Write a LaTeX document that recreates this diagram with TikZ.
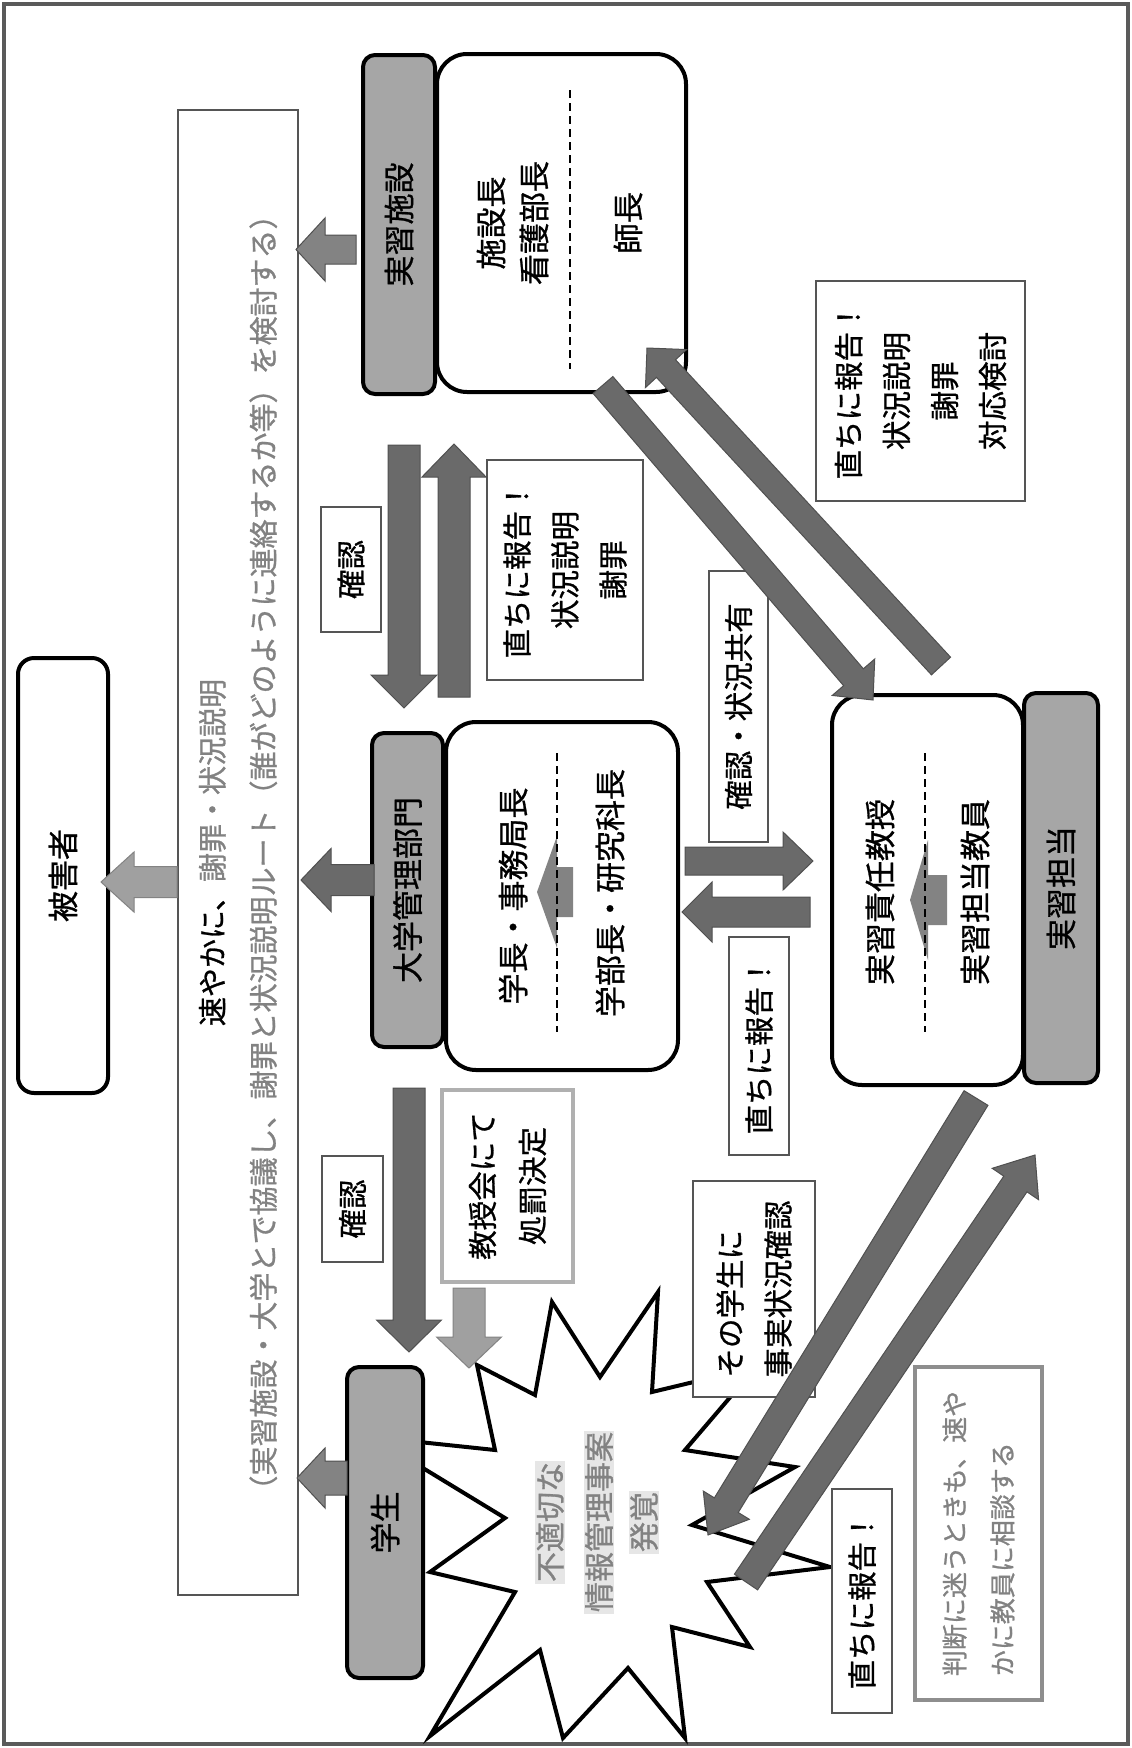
\documentclass[tikz,border=0pt]{standalone}
\usepackage{fontspec}
\setmainfont{Noto Sans CJK JP}[FakeBold=0.9]
\usetikzlibrary{calc}
\definecolor{arrdark}{HTML}{6A6A6A}
\definecolor{arrmid}{HTML}{838383}
\definecolor{arrlight}{HTML}{A0A0A0}
\definecolor{arredge}{HTML}{505050}
\definecolor{hdrfill}{HTML}{A6A6A6}
\definecolor{lblline}{HTML}{555555}
\definecolor{kyoline}{HTML}{B0B0B0}
\definecolor{handanline}{HTML}{8E8E8E}
\definecolor{txtgray}{HTML}{828282}
\definecolor{hlgray}{HTML}{E6E6E6}
\definecolor{framegray}{HTML}{5A5A5A}
\newcommand\fontHdr{\fontsize{31pt}{43pt}\selectfont}
\newcommand\fontLbl{\fontsize{29.5pt}{48pt}\selectfont}
\newcommand\fontBig{\fontsize{29pt}{51pt}\selectfont}
\newcommand\fontSml{\fontsize{26pt}{48pt}\selectfont}
\newcommand\fontStar{\fontsize{30pt}{47pt}\selectfont}
% #1 tail, #2 tip, #3 half shaft, #4 half head, #5 head length, #6 style
\newcommand\myblockarrow[6]{%
  \coordinate (tmpH) at ($(#2)!#5pt!(#1)$);
  \filldraw[#6] ($(#1)!#3pt!90:(#2)$) -- ($(tmpH)!#3pt!90:(#2)$) -- ($(tmpH)!#4pt!90:(#2)$) -- (#2)
    -- ($(tmpH)!#4pt!-90:(#2)$) -- ($(tmpH)!#3pt!-90:(#2)$) -- ($(#1)!#3pt!-90:(#2)$) -- cycle;}
\begin{document}
\begin{tikzpicture}[x=1pt,y=-1pt,
  hdr/.style={draw=black,line width=4pt,fill=hdrfill,rounded corners=12pt,rotate=90,inner sep=0pt,font=\fontHdr},
  bodybox/.style={draw=black,line width=4pt,fill=white,rounded corners=30pt,rotate=90,inner sep=0pt},
  lbl/.style={draw=lblline,line width=1.2pt,fill=white,rotate=90,inner sep=0pt,align=center,font=\fontLbl},
  txt/.style={rotate=90,inner sep=0pt,align=center,font=\fontHdr},
  sepline/.style={line width=2.6pt,dash pattern=on 8pt off 5pt},
  darr/.style={fill=arrdark,draw=arredge,line width=1pt},
  marr/.style={fill=arrmid,draw=arredge,line width=1pt},
  larr/.style={fill=arrlight,draw=arrmid,line width=1pt},
  startxt/.style={rotate=90,inner sep=1.5pt,font=\fontStar,text=txtgray,fill=hlgray},
]
\useasboundingbox (0,0) rectangle (1132,1748);
\fill[white] (0,0) rectangle (1132,1748);
\draw[framegray,line width=4pt] (4,4) rectangle (1128,1744);

% big text box
\node[draw=lblline,line width=1.2pt,rotate=90,inner sep=0pt,minimum width=1485pt,minimum height=120pt,align=center,font=\fontBig] (bigbox) at (238,852.5)
  {速やかに、{\color{txtgray}謝罪・状況説明}\\{\color{txtgray}（実習施設・大学とで協議し、謝罪と状況説明ルート（誰がどのように連絡するか等）を検討する）}};

% starburst
\draw[line width=4pt,fill=white,line join=miter] (477,1365) -- (535,1395) -- (552,1302) -- (600,1377) -- (658,1292) -- (652,1392)
  -- (756,1367) -- (685,1450) -- (795,1467) -- (692,1525) -- (830,1567) -- (707,1582) -- (750,1647) -- (672,1627)
  -- (685,1738) -- (628,1668) -- (563,1738) -- (540,1650) -- (430,1736) -- (515,1592) -- (430,1572) -- (505,1518)
  -- (372,1437) -- (495,1450) -- cycle;
\node[startxt] (st1) at (550,1522) {不適切な};
\node[startxt] (st2) at (599,1522) {情報管理事案};
\node[startxt] (st3) at (644,1522) {発覚};

% victim
\node[bodybox,rounded corners=16pt,minimum width=435pt,minimum height=90pt,font=\fontHdr] (higai) at (63,875.5) {被害者};

% facility
\node[hdr,minimum width=339pt,minimum height=72pt] (shHdr) at (399,224.5) {実習施設};
\node[bodybox,minimum width=338pt,minimum height=249pt] (shBody) at (561.5,223) {};
\coordinate (shS1) at (570,90); \coordinate (shS2) at (570,369);
\draw[sepline] (shS1) -- (shS2);
\node[txt] (shTop) at (512.5,223) {施設長\\看護部長};
\node[txt] (shBot) at (628,223) {師長};

% university
\node[hdr,minimum width=314pt,minimum height=71pt] (dgHdr) at (407.5,890) {大学管理部門};
\node[bodybox,minimum width=348pt,minimum height=232pt] (dgBody) at (562,896) {};
\coordinate (aInDT) at (573,892); \coordinate (aInDH) at (537,892);
\myblockarrow{aInDT}{aInDH}{25}{56}{20}{fill=arrmid,draw=none}
\coordinate (dgS1) at (557,753); \coordinate (dgS2) at (557,1032);
\draw[sepline] (dgS1) -- (dgS2);
\node[txt] (dgTop) at (513,896) {学長・事務局長};
\node[txt] (dgBot) at (610,893) {学部長・研究科長};

% practicum staff
\node[bodybox,minimum width=390pt,minimum height=191pt] (jsBody) at (927.5,890) {};
\node[hdr,minimum width=390pt,minimum height=74pt] (jsHdr) at (1061,888) {実習担当};
\coordinate (aInJT) at (947,900); \coordinate (aInJH) at (910,900);
\myblockarrow{aInJT}{aInJH}{25}{60}{18}{fill=arrmid,draw=none}
\coordinate (jsS1) at (925,753); \coordinate (jsS2) at (925,1032);
\draw[sepline] (jsS1) -- (jsS2);
\node[txt] (jsTop) at (880,892) {実習責任教授};
\node[txt] (jsBot) at (975,892) {実習担当教員};

% student
\node[hdr,minimum width=311pt,minimum height=76pt] (gsHdr) at (385,1522.5) {学生};

% labels
\node[lbl,minimum width=125pt,minimum height=60pt] (kak1) at (351,569.5) {確認};
\node[lbl,minimum width=220pt,minimum height=156pt] (hok1) at (565,570) {直ちに報告！\\状況説明\\謝罪};
\node[lbl,minimum width=220pt,minimum height=209pt] (hok2) at (920.5,391) {直ちに報告！\\状況説明\\謝罪\\対応検討};
\node[lbl,minimum width=271pt,minimum height=59pt] (kyo) at (738.5,706.5) {確認・状況共有};
\node[lbl,minimum width=218pt,minimum height=60pt] (hok3) at (759,1046) {直ちに報告！};
\node[lbl,minimum width=106pt,minimum height=61pt] (kak2) at (352.5,1209) {確認};
\node[lbl,draw=kyoline,line width=4pt,minimum width=192pt,minimum height=131pt,font=\fontsize{29.5pt}{50pt}\selectfont] (kyoju) at (507.5,1186) {教授会にて\\処罰決定};
\node[lbl,align=left,minimum width=216pt,minimum height=122pt] (sono) at (754,1289) {その学生に\\事実状況確認};
\node[lbl,minimum width=224pt,minimum height=60pt] (hok4) at (862,1601) {直ちに報告！};
\node[lbl,draw=handanline,line width=4pt,align=left,text=txtgray,font=\fontSml,minimum width=333pt,minimum height=127pt] (handan) at (978.5,1533.5) {判断に迷うときも、速や\\かに教員に相談する};

% arrows
\coordinate (aShT) at (356,249.5); \coordinate (aShH) at (296,249.5);
\myblockarrow{aShT}{aShH}{14.5}{31.5}{29}{marr}
\coordinate (aDgT) at (374,880); \coordinate (aDgH) at (301,880);
\myblockarrow{aDgT}{aDgH}{15.5}{31.5}{30}{darr}
\coordinate (aHgT) at (177,882); \coordinate (aHgH) at (101,882);
\myblockarrow{aHgT}{aHgH}{15.5}{30}{33}{larr}
\coordinate (aGsT) at (347,1478); \coordinate (aGsH) at (297,1478);
\myblockarrow{aGsT}{aGsH}{17}{30}{28}{marr}
\coordinate (aK1T) at (404,445); \coordinate (aK1H) at (404,708);
\myblockarrow{aK1T}{aK1H}{16}{33}{33}{darr}
\coordinate (aUpT) at (454,697); \coordinate (aUpH) at (454,444);
\myblockarrow{aUpT}{aUpH}{16}{32}{33}{darr}
\coordinate (aRT) at (685,861); \coordinate (aRH) at (813,861);
\myblockarrow{aRT}{aRH}{14}{29}{30}{darr}
\coordinate (aLT) at (810,912); \coordinate (aLH) at (682,912);
\myblockarrow{aLT}{aLH}{15}{30}{30}{darr}
\coordinate (aBT) at (603,385); \coordinate (aBH) at (873,700);
\myblockarrow{aBT}{aBH}{13}{28}{30}{darr}
\coordinate (aAT) at (941,666); \coordinate (aAH) at (647,348);
\myblockarrow{aAT}{aAH}{13}{28}{28}{darr}
\coordinate (aCT) at (976,1098); \coordinate (aCH) at (708,1535);
\myblockarrow{aCT}{aCH}{14}{27}{35}{darr}
\coordinate (aDT) at (746,1582); \coordinate (aDH) at (1035,1155);
\myblockarrow{aDT}{aDH}{14}{28}{35}{darr}
\coordinate (aK2T) at (409,1088); \coordinate (aK2H) at (409,1352);
\myblockarrow{aK2T}{aK2H}{16}{32.5}{32}{darr}
\coordinate (aKjT) at (469,1288); \coordinate (aKjH) at (469,1368);
\myblockarrow{aKjT}{aKjH}{16}{32.5}{31}{larr}
\end{tikzpicture}
\end{document}
